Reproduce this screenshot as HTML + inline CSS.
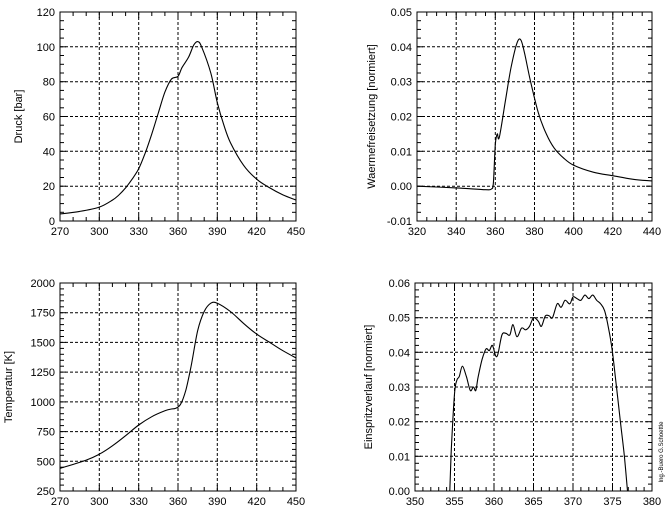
<!DOCTYPE html>
<html><head><meta charset="utf-8"><style>
html,body{margin:0;padding:0;background:#fff;}
svg{display:block;font-family:"Liberation Sans",sans-serif;}
</style></head><body>
<svg id="s" width="667" height="511" xmlns="http://www.w3.org/2000/svg"></svg>
<script>
const S=document.getElementById('s');let h='';
function panel(o){
 const {x0,x1,y0,y1,xa,xb,ya,yb,xmaj,xmin,ymaj,ymin,xdec,ydec,title,data}=o;
 const X=v=>x0+(v-xa)/(xb-xa)*(x1-x0), Y=v=>y1-(v-ya)/(yb-ya)*(y1-y0);
 const eps=1e-9;
 for(let v=xa;v<=xb+eps;v+=xmin){const px=X(v).toFixed(1);const isM=Math.abs(((v-xa)/xmaj)-Math.round((v-xa)/xmaj))<1e-6;
  if(isM){ if(v>xa+eps&&v<xb-eps) h+=`<line x1="${px}" y1="${y0}" x2="${px}" y2="${y1}" stroke="#000" stroke-width="1" stroke-dasharray="3,2"/>`;
   h+=`<text x="${px}" y="${y1+14}" font-size="11" text-anchor="middle">${v.toFixed(xdec)}</text>`;}
  h+=`<line x1="${px}" y1="${y1}" x2="${px}" y2="${y1-(isM?6:4)}" stroke="#000"/><line x1="${px}" y1="${y0}" x2="${px}" y2="${y0+(isM?6:4)}" stroke="#000"/>`;}
 for(let v=ya;v<=yb+eps;v+=ymin){const py=Y(v).toFixed(1);const isM=Math.abs(((v-ya)/ymaj)-Math.round((v-ya)/ymaj))<1e-6;
  if(isM){ if(v>ya+eps&&v<yb-eps) h+=`<line x1="${x0}" y1="${py}" x2="${x1}" y2="${py}" stroke="#000" stroke-dasharray="3,2"/>`;
   h+=`<text x="${x0-5}" y="${+py+4}" font-size="11" text-anchor="end">${v.toFixed(ydec)}</text>`;}
  h+=`<line x1="${x0}" y1="${py}" x2="${x0+(isM?6:4)}" y2="${py}" stroke="#000"/><line x1="${x1}" y1="${py}" x2="${x1-(isM?6:4)}" y2="${py}" stroke="#000"/>`;}
 h+=`<rect x="${x0}" y="${y0}" width="${x1-x0}" height="${y1-y0}" fill="none" stroke="#000"/>`;
 const ty=(y0+y1)/2;
 h+=`<text transform="translate(${o.tx},${ty}) rotate(-90)" font-size="11" text-anchor="middle">${title}</text>`;
 const p=data.map(d=>[X(d[0]),Y(d[1])]);let d=`M${p[0][0].toFixed(1)},${p[0][1].toFixed(1)}`;
 for(let i=0;i<p.length-1;i++){const a=p[i-1]||p[i],b=p[i],c=p[i+1],e=p[i+2]||c;
  d+=` C${(b[0]+(c[0]-a[0])/6).toFixed(1)},${(b[1]+(c[1]-a[1])/6).toFixed(1)} ${(c[0]-(e[0]-b[0])/6).toFixed(1)},${(c[1]-(e[1]-b[1])/6).toFixed(1)} ${c[0].toFixed(1)},${c[1].toFixed(1)}`;}
 h+=`<path d="${d}" fill="none" stroke="#000" stroke-width="1.1"/>`;
}
panel({x0:60,x1:296,y0:12,y1:221,xa:270,xb:450,ya:0,yb:120,xmaj:30,xmin:10,ymaj:20,ymin:5,xdec:0,ydec:0,tx:22,title:"Druck [bar]",
data:[[270,4],[285,5.5],[300,8],[310,12],[315,15],[320,19],[325,24],[330,30],[335,39],[340,50],[345,62],[350,74],[355,81.5],[360,83],[363,88],[368,94],[372,101],[375,103],[378,100],[385,85],[390,68],[395,55],[400,45],[410,32],[420,24],[430,19],[440,15],[450,12]]});
panel({x0:417,x1:652,y0:12,y1:221,xa:320,xb:440,ya:-0.01,yb:0.05,xmaj:20,xmin:5,ymaj:0.01,ymin:0.0025,xdec:0,ydec:2,tx:375,title:"Waermefreisetzung [normiert]",
data:[[320,0],[340,-0.0005],[355,-0.001],[358,-0.0008],[359,0.001],[360,0.012],[361,0.015],[362,0.014],[365,0.024],[368,0.034],[371,0.041],[373,0.042],[375,0.038],[378,0.030],[382,0.021],[386,0.015],[390,0.011],[395,0.008],[400,0.006],[410,0.004],[420,0.003],[430,0.002],[440,0.0015]]});
panel({x0:60,x1:296,y0:283,y1:491,xa:270,xb:450,ya:250,yb:2000,xmaj:30,xmin:10,ymaj:250,ymin:50,xdec:0,ydec:0,tx:12,title:"Temperatur [K]",
data:[[270,440],[290,510],[300,560],[310,630],[320,715],[330,805],[340,875],[350,925],[355,940],[358,945],[362,980],[366,1100],[370,1300],[375,1600],[380,1760],[385,1830],[390,1830],[400,1760],[410,1660],[420,1570],[430,1500],[440,1430],[450,1370]]});
panel({x0:415,x1:652,y0:283,y1:491,xa:350,xb:380,ya:0,yb:0.06,xmaj:5,xmin:1,ymaj:0.01,ymin:0.002,xdec:0,ydec:2,tx:372,title:"Einspritzverlauf [normiert]",
data:[[354.4,0],[354.6,0.012],[355,0.028],[355.3,0.032],[355.6,0.033],[356,0.036],[356.5,0.033],[357,0.029],[357.4,0.030],[357.7,0.029],[358,0.033],[358.5,0.038],[359,0.041],[359.4,0.0405],[359.8,0.042],[360.2,0.039],[360.5,0.0395],[361,0.045],[361.5,0.0455],[362,0.045],[362.4,0.048],[362.9,0.0445],[363.5,0.047],[364,0.0465],[364.5,0.0475],[365,0.05],[365.6,0.049],[366,0.0475],[366.5,0.0505],[367,0.0505],[367.4,0.050],[368,0.054],[368.5,0.053],[369,0.055],[369.6,0.054],[370,0.056],[370.5,0.0555],[371,0.055],[371.5,0.0565],[372,0.0555],[372.5,0.0565],[373,0.055],[373.5,0.054],[374,0.052],[374.5,0.047],[375,0.040],[375.5,0.030],[376,0.020],[376.5,0.010],[376.9,0]]});
h+=`<text transform="translate(663,452) rotate(-90)" font-size="6" text-anchor="middle">Ing.-Buero G.Schoettle</text>`;
S.innerHTML=h;
</script>
</body></html>
